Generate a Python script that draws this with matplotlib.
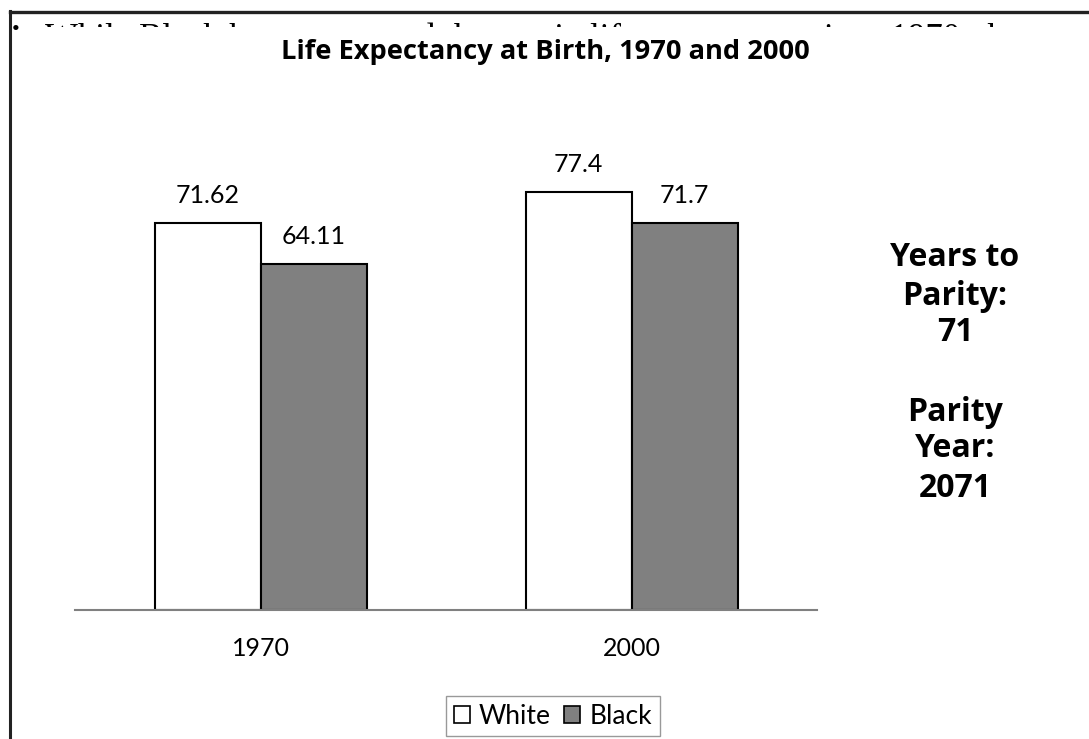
import matplotlib
matplotlib.use("Agg")
import matplotlib.pyplot as plt
from matplotlib.patches import Rectangle
from matplotlib.lines import Line2D
import numpy as np

plt.rcParams['font.family'] = ['Lato', 'DejaVu Sans']

categories = ["1970", "2000"]
series_names = ["White", "Black"]
white_vals = [71.62, 77.4]
black_vals = [64.11, 71.7]
white_labels = ["71.62", "77.4"]
black_labels = ["64.11", "71.7"]
title = "Life Expectancy at Birth, 1970 and 2000"
side_lines = ["Years to", "Parity:", "71", "Parity", "Year:", "2071"]
bg_text = "While Black have narrowed the gap in life expectancy since 1970, the gap remains"

W, H = 1089, 739
fig = plt.figure(figsize=(W / 100, H / 100), dpi=100)
fig.patch.set_facecolor("white")

def fx(px):
    return px / W

def fy(py):
    return 1 - py / H

# background (mostly hidden) slide text
fig.text(fx(45), fy(22), bg_text, family="Liberation Serif", fontsize=25,
         va="top", ha="left", zorder=1)
fig.text(fx(16), fy(31), "\u2022", family="Liberation Serif", fontsize=16,
         va="center", ha="center", zorder=1)
fig.patches.append(Rectangle((fx(19), fy(70)), fx(W) - fx(19), fy(27) - fy(70),
                             transform=fig.transFigure, facecolor="white",
                             edgecolor="none", zorder=2))

# frame lines
top_line = Line2D([fx(10), fx(W)], [fy(12), fy(12)], color="#222222", lw=2.4,
                  transform=fig.transFigure, zorder=10)
left_line = Line2D([fx(10), fx(10)], [fy(11), fy(H)], color="#222222", lw=2.2,
                   transform=fig.transFigure, zorder=10)
fig.lines.extend([top_line, left_line])

# title
fig.text(fx(545), fy(59), title, family=["Open Sans", "DejaVu Sans"], fontsize=19.6,
         fontweight="bold", ha="center", va="baseline", zorder=7)

# axes
ax_left, ax_right, ax_base, ax_top = 75, 817, 610, 124
ax = fig.add_axes([fx(ax_left), fy(ax_base), fx(ax_right) - fx(ax_left),
                   (ax_base - ax_top) / H])
ax.set_zorder(5)
ax.patch.set_alpha(0)
ax.set_xlim(-0.5, 1.5)
ax.set_ylim(0, 90)

x = np.arange(len(categories))
bw = 106 / 371
b1 = ax.bar(x - bw / 2, white_vals, bw, color="white", edgecolor="black", lw=1.5)
b2 = ax.bar(x + bw / 2, black_vals, bw, color="#808080", edgecolor="black", lw=1.5)

for bars, labels in ((b1, white_labels), (b2, black_labels)):
    for rect, lab in zip(bars, labels):
        ax.annotate(lab, (rect.get_x() + rect.get_width() / 2, rect.get_height()),
                    xytext=(0, 14.5), textcoords="offset points", ha="center",
                    va="baseline", fontsize=18)

for s in ("top", "right", "left"):
    ax.spines[s].set_visible(False)
ax.spines["bottom"].set_color("#808080")
ax.spines["bottom"].set_linewidth(1.5)
ax.set_yticks([])
ax.set_xticks(x)
ax.set_xticklabels(categories, fontsize=18)
ax.tick_params(axis="x", length=0, pad=19.5)

# side annotation
baselines = [266, 305, 341, 421, 457, 497]
for line, b in zip(side_lines, baselines):
    fig.text(fx(955), fy(b), line, family=["Open Sans", "DejaVu Sans"], fontsize=23,
             fontweight="bold", ha="center", va="baseline", zorder=7)

# legend
leg = fig.legend([b1, b2], series_names, loc="center",
                 bbox_to_anchor=(fx(553), fy(716)), ncol=2, fontsize=19,
                 frameon=True, fancybox=False, handlelength=0.6, handleheight=0.6,
                 handletextpad=0.35, columnspacing=0.5, borderpad=0.3,
                 borderaxespad=0)
leg.get_frame().set_edgecolor("#808080")
leg.get_frame().set_linewidth(1.0)
for h in leg.legend_handles:
    h.set_linewidth(1.2)

fig.savefig("out.png", dpi=100, facecolor="white")
